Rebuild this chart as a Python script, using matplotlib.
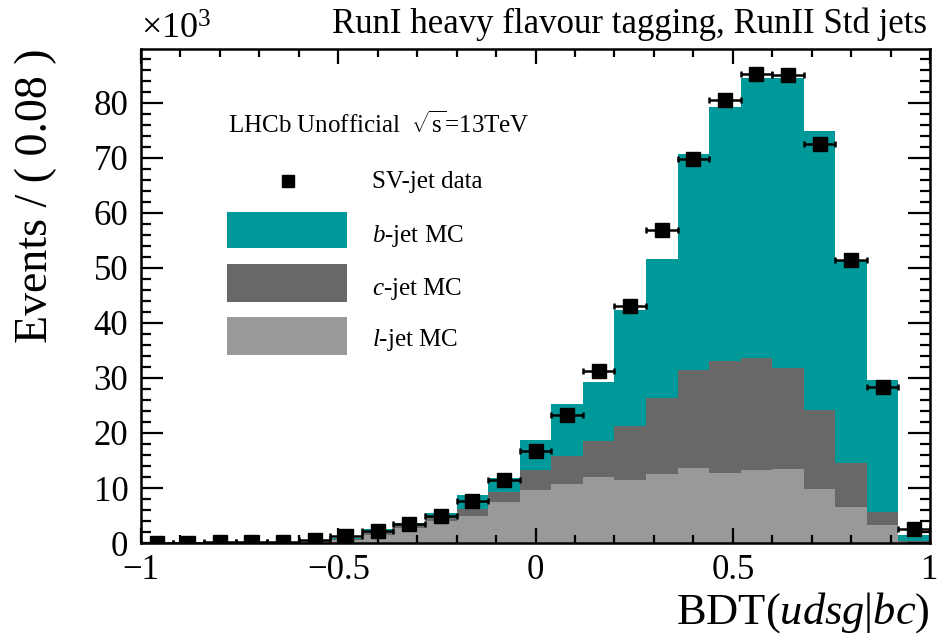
import numpy as np
import matplotlib
matplotlib.use("Agg")
import matplotlib.pyplot as plt
from matplotlib.patches import Rectangle
from matplotlib.lines import Line2D
from matplotlib.ticker import MultipleLocator, FixedLocator

plt.rcParams['font.family'] = ['Liberation Serif', 'DejaVu Serif']
plt.rcParams['mathtext.fontset'] = 'custom'
plt.rcParams['mathtext.rm'] = 'Liberation Serif'
plt.rcParams['mathtext.it'] = 'Liberation Serif:italic'

# BDT binning: 25 bins of width 0.08 between -1 and 1
bin_edges = np.linspace(-1.0, 1.0, 26)
bin_centres = 0.5 * (bin_edges[:-1] + bin_edges[1:])

# SV-tagged jet data, events per bin (x 10^3)
sv_data = [0.05, 0.08, 0.10, 0.15, 0.25, 0.50, 1.2, 2.2, 3.4, 5.0, 7.6, 11.4, 16.8,
           23.2, 31.2, 43.1, 56.9, 69.8, 80.5, 85.2, 85.0, 72.5, 51.5, 28.4, 2.5]

# MC templates after the fit (x 10^3), one entry per bin
l_jet = [0.03, 0.05, 0.07, 0.10, 0.15, 0.30, 0.6, 1.5, 2.7, 4.0, 5.0, 7.4, 9.6,
         10.8, 12.0, 11.5, 12.5, 13.6, 12.8, 13.3, 13.5, 9.9, 6.6, 3.3, 0.1]
c_jet = [0.01, 0.01, 0.02, 0.03, 0.05, 0.10, 0.2, 0.5, 0.5, 0.6, 1.2, 1.9, 3.6,
         5.1, 6.5, 9.7, 13.8, 17.9, 20.3, 20.4, 18.3, 14.3, 7.9, 2.4, 0.2]
b_jet = [0.01, 0.01, 0.01, 0.02, 0.05, 0.10, 0.2, 0.5, 0.5, 0.9, 2.6, 2.5, 5.6,
         9.3, 10.7, 21.2, 25.3, 39.2, 46.1, 50.9, 52.8, 50.6, 36.8, 23.9, 1.1]

tick_values = [-1, -0.5, 0, 0.5, 1]
tick_labels = ['\u22121', '\u22120.5', '0', '0.5', '1']
legend_labels = ['SV-jet data', r'$b$-jet MC', r'$c$-jet MC', r'$l$-jet MC']

teal = '#009999'
dark_grey = '#686868'
light_grey = '#999999'

W, H = 938, 636
fig = plt.figure(figsize=(W / 100, H / 100), dpi=100)
ax = fig.add_axes([0.1503, 0.1462, 0.8412, 0.7768])


def fx(px):
    return px / W


def fy(py):
    # pixel rows count from the top of the canvas
    return 1 - py / H


lc = np.add(l_jet, c_jet)
lcb = lc + np.array(b_jet)
ax.stairs(lcb, bin_edges, baseline=0, fill=True, color=teal, lw=0)
ax.stairs(lc, bin_edges, baseline=0, fill=True, color=dark_grey, lw=0)
ax.stairs(l_jet, bin_edges, baseline=0, fill=True, color=light_grey, lw=0)

half_width = 0.5 * np.diff(bin_edges)
ax.errorbar(bin_centres, sv_data, xerr=half_width, fmt='s', color='black',
            markersize=9.5, elinewidth=1.8, capsize=2.5, capthick=1.8, zorder=5)

ax.set_xlim(-1, 1)
ax.set_ylim(0, 89.8)

ax.xaxis.set_major_locator(FixedLocator(tick_values))
ax.set_xticklabels(tick_labels)
ax.xaxis.set_minor_locator(MultipleLocator(0.1))
ax.yaxis.set_major_locator(MultipleLocator(10))
ax.yaxis.set_minor_locator(MultipleLocator(2))

ax.tick_params(which='both', direction='in', top=True, right=True, width=1.6,
               labelsize=25)
ax.tick_params(axis='x', which='major', length=11, pad=8)
ax.tick_params(axis='x', which='minor', length=6)
ax.tick_params(axis='y', which='major', length=16, pad=9)
ax.tick_params(axis='y', which='minor', length=7.5)
for spine in ax.spines.values():
    spine.set_linewidth(1.8)

ax.set_xlabel(r'BDT($udsg$|$bc$)', fontsize=32, loc='right', labelpad=2)
ax.set_ylabel('Events / ( 0.08 )', fontsize=33, loc='top', labelpad=26)

ax.text(0.0, 1.005, r'$\times10^{3}$', transform=ax.transAxes, fontsize=26,
        ha='left', va='bottom')
fig.text(0.988, 0.988, 'RunI heavy flavour tagging, RunII Std jets', fontsize=25,
         ha='right', va='top')
fig.text(fx(228), fy(133), r'LHCb Unofficial  $\sqrt{\mathrm{s}}$=13TeV',
         fontsize=18, ha='left', va='baseline')

# hand-placed legend: data marker row, then one filled box per template
fig.add_artist(Line2D([fx(288)], [fy(181)], marker='s', color='black',
                      markersize=8.5, linestyle='none', transform=fig.transFigure))
fig.text(fx(372), fy(188), legend_labels[0], fontsize=18, ha='left', va='baseline')
box_rows = [(212, 248, 241.5, teal), (264, 302, 295, dark_grey), (317, 355, 346, light_grey)]
for label, (top, bottom, base, colour) in zip(legend_labels[1:], box_rows):
    fig.add_artist(Rectangle((fx(227), fy(bottom)), fx(347) - fx(227), fy(top) - fy(bottom),
                             transform=fig.transFigure, facecolor=colour, edgecolor='none'))
    fig.text(fx(372), fy(base), label, fontsize=18, ha='left', va='baseline')

fig.savefig('out.png', dpi=100)
